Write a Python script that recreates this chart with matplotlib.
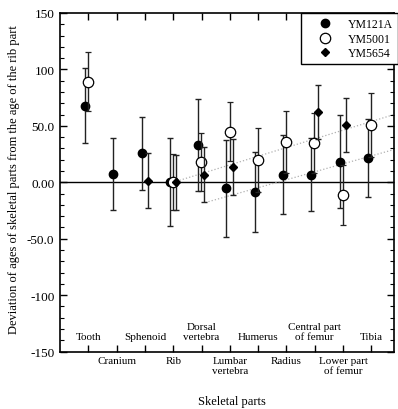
import numpy as np
import matplotlib
matplotlib.use("Agg")
import matplotlib.pyplot as plt
from matplotlib.lines import Line2D

plt.rcParams['font.family'] = ['Liberation Serif', 'DejaVu Serif']

# skeletal parts, in order along the x axis
parts = ["Tooth", "Cranium", "Sphenoid", "Rib", "Dorsal\nvertebra",
         "Lumbar\nvertebra", "Humerus", "Radius", "Central part\nof femur",
         "Lower part\nof femur", "Tibia"]
label_above = [True, False, True, False, True, False, True, False, True, False, True]

nan = np.nan
ym121a = [68.0, 7.4, 25.5, 0.0, 33.0, -5.5, -8.9, 6.8, 6.8, 18.2, 21.8]
ym121a_err = [33.5, 32.0, 32.0, 39.0, 41.0, 42.7, 35.5, 35.0, 32.0, 41.4, 34.6]
ym5001 = [89.2, nan, nan, 0.0, 17.7, 44.7, 19.7, 36.0, 34.8, -11.3, 50.7]
ym5001_err = [26.0, nan, nan, 25.0, 25.6, 26.0, 28.0, 27.5, 27.0, 26.3, 28.1]
ym5654 = [nan, nan, 1.3, 0.0, 6.6, 13.7, nan, nan, 62.0, 51.0, nan]
ym5654_err = [nan, nan, 24.4, 24.5, 24.4, 24.7, nan, nan, 24.0, 24.1, nan]

# dotted trend lines (x, y end points)
trend_upper_x = [4.0, 11.8]
trend_upper_y = [0.0, 60.0]
trend_lower_x = [5.13, 11.8]
trend_lower_y = [-18.0, 29.0]

yticks = [-150, -100, -50, 0, 50, 100, 150]
ytick_labels = ["-150", "-100", "-50.0", "0.00", "50.0", "100", "150"]

fig = plt.figure(figsize=(3.98, 4.10), dpi=100)
ax = fig.add_axes([60 / 398, 1 - 352.5 / 410, 334 / 398, 338.5 / 410])

x = np.arange(1, len(parts) + 1)

ax.axhline(0, color='black', lw=1.0, zorder=1)
ax.plot(trend_upper_x, trend_upper_y, ls=':', color='#b0b0b0', lw=0.9, zorder=1)
ax.plot(trend_lower_x, trend_lower_y, ls=':', color='#b0b0b0', lw=0.9, zorder=1)

ebkw = dict(ls='none', ecolor='#222222', elinewidth=1.0, capsize=2.5, capthick=1.0)
ax.errorbar(x - 0.12, ym121a, yerr=ym121a_err, fmt='o', ms=6, mfc='black',
            mec='black', zorder=3, **ebkw)
ax.errorbar(x - 0.01, ym5001, yerr=ym5001_err, fmt='o', ms=7.5, mfc='white',
            mec='black', mew=0.9, zorder=4, **ebkw)
ax.errorbar(x + 0.1, ym5654, yerr=ym5654_err, fmt='D', ms=4, mfc='black',
            mec='black', zorder=5, **ebkw)

ax.set_xlim(0, 11.8)
ax.set_ylim(-150, 150)
ax.set_xticks(x)
ax.set_xticklabels([])
ax.set_yticks(yticks)
ax.set_yticklabels(ytick_labels, fontsize=9.5)
ax.set_yticks(np.arange(-150, 151, 10), minor=True)
ax.tick_params(axis='both', which='major', direction='in', length=5, width=1,
               top=True, right=True, pad=4)
ax.tick_params(axis='y', which='minor', direction='in', length=3, width=0.8,
               right=True)
for s in ax.spines.values():
    s.set_linewidth(1.2)

for xi, name, above in zip(x, parts, label_above):
    if above:
        ax.text(xi, -141, name, ha='center', va='bottom', fontsize=8,
                linespacing=1.15, multialignment='center')
    else:
        ax.text(xi, -154, name, ha='center', va='top', fontsize=8,
                linespacing=1.15, multialignment='center', clip_on=False)

fig.text(232 / 398, 1 - 402 / 410, "Skeletal parts", ha='center', va='center',
         fontsize=9)
fig.text(14 / 398, 1 - 180 / 410,
         "Deviation of ages of skeletal parts from the age of the rib part",
         rotation=90, ha='center', va='center', fontsize=9)

handles = [
    Line2D([], [], ls='none', marker='o', ms=6, mfc='black', mec='black'),
    Line2D([], [], ls='none', marker='o', ms=7.5, mfc='white', mec='black', mew=0.9),
    Line2D([], [], ls='none', marker='D', ms=4, mfc='black', mec='black'),
]
leg = ax.legend(handles, ["YM121A", "YM5001", "YM5654"], loc='upper right',
                bbox_to_anchor=(1.012, 1.0), borderaxespad=0, fontsize=8.5,
                frameon=True, fancybox=False, edgecolor='black',
                handlelength=3.2, handletextpad=0.3, labelspacing=0.2,
                borderpad=0.45)
leg.get_frame().set_linewidth(1.0)
leg.get_frame().set_alpha(1)

fig.savefig("out.png", dpi=100)
